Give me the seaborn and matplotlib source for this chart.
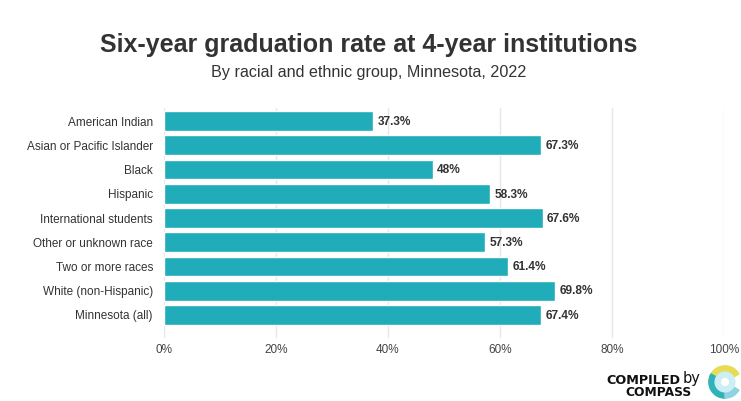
import numpy as np
import pandas as pd
import matplotlib
matplotlib.use("Agg")
import matplotlib.pyplot as plt
from matplotlib.patches import Wedge
import seaborn as sns

groups = [
    "American Indian",
    "Asian or Pacific Islander",
    "Black",
    "Hispanic",
    "International students",
    "Other or unknown race",
    "Two or more races",
    "White (non-Hispanic)",
    "Minnesota (all)",
]
rates = [37.3, 67.3, 48.0, 58.3, 67.6, 57.3, 61.4, 69.8, 67.4]
rate_labels = ["37.3%", "67.3%", "48%", "58.3%", "67.6%", "57.3%", "61.4%", "69.8%", "67.4%"]
x_ticks = [0, 20, 40, 60, 80, 100]

BAR = "#20acb8"
TXT = "#333333"

sns.set_theme(style="white")
plt.rcParams["font.family"] = ["Liberation Sans", "DejaVu Sans"]

df = pd.DataFrame({"group": groups, "rate": rates})

W, H = 741, 401
fig = plt.figure(figsize=(W / 100, H / 100), dpi=100)
ax = fig.add_axes([164 / W, 1 - 338 / H, (724 - 164) / W, (338 - 108) / H])

sns.barplot(data=df, y="group", x="rate", color=BAR, saturation=1,
            width=0.82, ax=ax, orient="h")

ax.set_xlim(0, 100)
ax.set_ylim(8.95, -0.54)
ax.set_xticks(x_ticks)
ax.set_xticklabels([f"{t}%" for t in x_ticks])
for t in x_ticks:
    ax.axvline(t, color="#e6e6e6", linewidth=1, zorder=0)
ax.set_axisbelow(True)

for i, (v, lab) in enumerate(zip(rates, rate_labels)):
    ax.text(v + 0.8, i + 0.03, lab, va="center", ha="left", fontsize=8.6,
            fontweight="bold", color=TXT)

ax.set_xlabel("")
ax.set_ylabel("")
ax.tick_params(axis="x", labelsize=8.5, colors="#444444", length=0, pad=4)
ax.tick_params(axis="y", labelsize=8.5, colors=TXT, length=0, pad=8)
for s in ax.spines.values():
    s.set_visible(False)

fig.text(369 / W, 1 - 45 / H, "Six-year graduation rate at 4-year institutions",
         ha="center", va="center", fontsize=18, fontweight="bold", color=TXT)
fig.text(369 / W, 1 - 72 / H, "By racial and ethnic group, Minnesota, 2022",
         ha="center", va="center", fontsize=11.6, color=TXT)

# "Compiled by Compass" badge
fig.text(680 / W, 1 - 381 / H, "COMPILED", ha="right", va="center",
         fontsize=9.2, fontweight="bold", color="#111111",
         family="DejaVu Sans")
fig.text(683 / W, 1 - 379 / H, "by", ha="left", va="center",
         fontsize=10.5, color="#111111", family="DejaVu Sans")
fig.text(691 / W, 1 - 393 / H, "COMPASS", ha="right", va="center",
         fontsize=8.8, fontweight="bold", color="#111111",
         family="DejaVu Sans")

lax = fig.add_axes([708 / W, 1 - 399 / H, 34 / W, 34 / H])
lax.set_xlim(-1, 1)
lax.set_ylim(-1, 1)
lax.set_aspect("equal")
lax.axis("off")
lax.add_patch(Wedge((0, 0), 0.95, 30, 150, width=0.35, color="#e6dc55"))
lax.add_patch(Wedge((0, 0), 0.95, 150, 270, width=0.35, color="#2fb3b8"))
lax.add_patch(Wedge((0, 0), 0.95, 270, 330, width=0.35, color="#8fd3e3"))
lax.add_patch(Wedge((0, 0), 0.58, 0, 360, color="#cdeef3"))
lax.add_patch(Wedge((0, 0), 0.2, 0, 360, color="#ffffff"))

fig.savefig("out.png", dpi=100)
